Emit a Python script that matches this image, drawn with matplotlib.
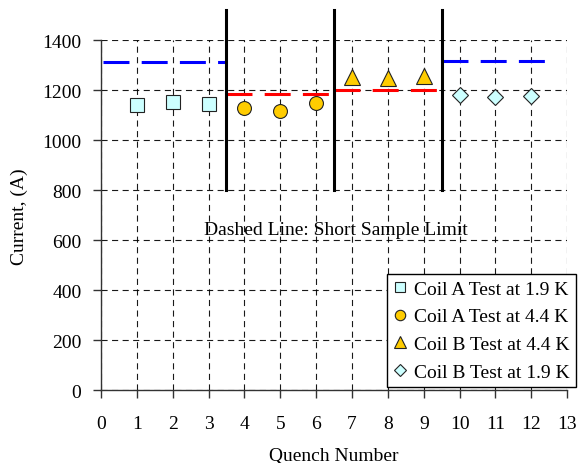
import matplotlib
matplotlib.use("Agg")
import matplotlib.pyplot as plt

plt.rcParams['font.family'] = ['Liberation Serif', 'DejaVu Serif']

# data
coilA19_x = [1, 2, 3]
coilA19_y = [1140, 1155, 1147]
coilA44_x = [4, 5, 6]
coilA44_y = [1130, 1118, 1150]
coilB44_x = [7, 8, 9]
coilB44_y = [1252, 1250, 1258]
coilB19_x = [10, 11, 12]
coilB19_y = [1182, 1172, 1178]

limit_blue1 = ([0.05, 3.5], [1313, 1313])
limit_red1 = ([3.5, 6.5], [1185, 1185])
limit_red2 = ([6.5, 9.5], [1203, 1203])
limit_blue2 = ([9.5, 12.6], [1317, 1317])
separators_x = [3.5, 6.5, 9.5]
sep_y = (800, 1520)

labels = ["Coil A Test at 1.9 K", "Coil A Test at 4.4 K",
          "Coil B Test at 4.4 K", "Coil B Test at 1.9 K"]
annotation = "Dashed Line: Short Sample Limit"

FS = 14

fig = plt.figure(figsize=(5.8, 4.64), dpi=100)
ax = fig.add_axes([0.174, 0.157, 0.804, 0.754])

ax.set_xlim(0, 13)
ax.set_ylim(0, 1400)
ax.set_xticks(range(0, 14))
ax.set_yticks(range(0, 1401, 200))
ax.grid(True, color='black', linestyle=(0, (5.5, 4)), linewidth=0.8, alpha=0.9)
ax.set_axisbelow(True)
for s in ['top', 'right']:
    ax.spines[s].set_visible(False)
for s in ['left', 'bottom']:
    ax.spines[s].set_color('#333333')
    ax.spines[s].set_linewidth(1.0)
ax.tick_params(direction='out', length=6, width=1, labelsize=FS, color='#333333')
ax.tick_params(axis='y', pad=8)
ax.tick_params(axis='x', pad=12)

lw_lim = 2.2
ax.plot(*limit_blue1, color='blue', lw=lw_lim, dashes=(8.5, 4), zorder=3)
ax.plot(*limit_blue2, color='blue', lw=lw_lim, dashes=(8.5, 4), zorder=3)
ax.plot(*limit_red1, color='red', lw=lw_lim, dashes=(8.5, 4), zorder=3)
ax.plot(*limit_red2, color='red', lw=lw_lim, dashes=(8.5, 4), zorder=3)

for sx in separators_x:
    ax.plot([sx, sx], sep_y, color='black', lw=2.2, clip_on=False, zorder=4)

h1, = ax.plot(coilA19_x, coilA19_y, 's', ms=9.5, mfc='#CCFFFF', mec='#222222', mew=0.8, zorder=5)
h2, = ax.plot(coilA44_x, coilA44_y, 'o', ms=10, mfc='#FFCC00', mec='#222222', mew=0.8, zorder=5)
h3, = ax.plot(coilB44_x, coilB44_y, '^', ms=11, mfc='#FFCC00', mec='#222222', mew=0.8, zorder=5)
h4, = ax.plot(coilB19_x, coilB19_y, 'D', ms=8.5, mfc='#CCFFFF', mec='#222222', mew=0.8, zorder=5)

ax.text(6.55, 643, annotation, ha='center', va='center', fontsize=FS)

ax.set_xlabel("Quench Number", fontsize=FS, labelpad=11)
ax.set_ylabel("Current, (A)", fontsize=FS, labelpad=10)

leg = fig.legend([h1, h2, h3, h4], labels, loc='upper left',
                 bbox_to_anchor=(0.667, 0.407), bbox_transform=fig.transFigure,
                 borderaxespad=0, fontsize=FS, frameon=True, fancybox=False,
                 handlelength=0.8, handletextpad=0.3, markerscale=0.75,
                 labelspacing=0.52, borderpad=0.3)
leg.get_frame().set_edgecolor('black')
leg.get_frame().set_linewidth(1.0)
leg.get_frame().set_facecolor('white')
leg.get_frame().set_alpha(1)

fig.savefig("out.png", dpi=100)
